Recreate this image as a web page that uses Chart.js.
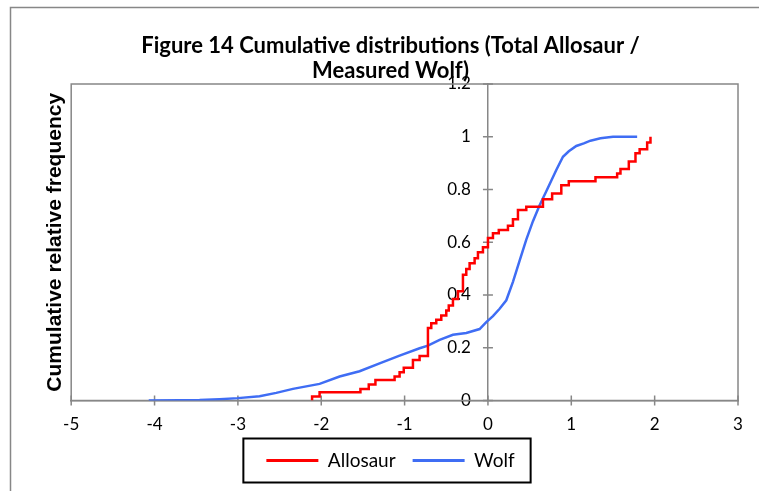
<!DOCTYPE html>
<html>
<head>
<meta charset="utf-8">
<script src="https://cdn.jsdelivr.net/npm/chart.js@4.4.1/dist/chart.umd.min.js"></script>
<style>
  html, body { margin: 0; padding: 0; background: #fff; }
  #wrap { width: 759px; height: 491px; }
</style>
</head>
<body>
<div id="wrap"><canvas id="myChart" width="759" height="491"></canvas></div>
<script>
// values (x = score, y = cumulative relative frequency)
const allosaurX = [-2.11, -2.11, -2.02, -1.53, -1.43, -1.35, -1.12, -1.06, -1.01, -0.90, -0.82,
  -0.72, -0.68, -0.62, -0.56, -0.50, -0.47, -0.42, -0.36, -0.30, -0.26, -0.22, -0.16, -0.12, -0.06,
  0.00, 0.06, 0.13, 0.24, 0.30, 0.36, 0.46, 0.66, 0.77, 0.88, 0.97, 1.29, 1.55, 1.59, 1.69, 1.77,
  1.82, 1.91, 1.95];
const allosaurY = [0, 0.015, 0.031, 0.044, 0.061, 0.078, 0.091, 0.107, 0.124, 0.154, 0.169,
  0.275, 0.293, 0.306, 0.322, 0.341, 0.360, 0.385, 0.414, 0.477, 0.499, 0.520, 0.539, 0.562, 0.581,
  0.616, 0.634, 0.646, 0.663, 0.687, 0.722, 0.735, 0.763, 0.785, 0.816, 0.831, 0.846, 0.861, 0.878,
  0.906, 0.937, 0.953, 0.978, 1.0];

const wolfX = [-4.07, -3.70, -3.46, -3.22, -3.00, -2.74, -2.54, -2.34, -2.02, -1.78, -1.54, -1.30,
  -1.06, -0.82, -0.72, -0.58, -0.42, -0.26, -0.10, -0.02, 0.06, 0.14, 0.22, 0.30, 0.38, 0.46, 0.54,
  0.62, 0.71, 0.82, 0.90, 0.97, 1.06, 1.15, 1.23, 1.35, 1.50, 1.79];
const wolfY = [0, 0.001, 0.002, 0.005, 0.009, 0.016, 0.029, 0.044, 0.063, 0.091, 0.111, 0.141,
  0.170, 0.198, 0.208, 0.230, 0.249, 0.256, 0.271, 0.297, 0.320, 0.348, 0.380, 0.450, 0.530, 0.610,
  0.680, 0.740, 0.800, 0.874, 0.924, 0.945, 0.965, 0.975, 0.985, 0.994, 1.0, 1.0];

const xTicks = [-5, -4, -3, -2, -1, 0, 1, 2, 3];
const yTicks = [0, 0.2, 0.4, 0.6, 0.8, 1, 1.2];
const seriesNames = ['Allosaur', 'Wolf'];
const titleLines = ['Figure 14 Cumulative distributions (Total Allosaur /', 'Measured Wolf)'];
const yTitle = 'Cumulative relative frequency';

const axisGrey = '#878787';
const toPoints = (xs, ys) => xs.map((x, i) => ({ x, y: ys[i] }));

// plot frame, crossing tick marks, outer border and legend box
const frame = {
  id: 'frame',
  beforeDatasetsDraw(chart) {
    const { ctx, chartArea: a, scales: { x, y } } = chart;
    ctx.save();
    ctx.strokeStyle = axisGrey;
    ctx.lineWidth = 1.5;
    ctx.strokeRect(a.left, a.top, a.width, a.height);
    const x0 = x.getPixelForValue(0);
    const y0 = y.getPixelForValue(0);
    ctx.beginPath();
    xTicks.forEach(v => {
      const px = x.getPixelForValue(v);
      ctx.moveTo(px, y0 - 5);
      ctx.lineTo(px, y0 + 5);
    });
    yTicks.forEach(v => {
      const py = y.getPixelForValue(v);
      ctx.moveTo(x0 - 5, py);
      ctx.lineTo(x0 + 5, py);
    });
    ctx.stroke();
    ctx.restore();
  },
  afterDraw(chart) {
    const { ctx, legend } = chart;
    ctx.save();
    ctx.strokeStyle = axisGrey;
    ctx.lineWidth = 1.5;
    ctx.beginPath();
    ctx.moveTo(10.5, chart.height);
    ctx.lineTo(10.5, 7.5);
    ctx.lineTo(chart.width, 7.5);
    ctx.stroke();

    const hb = legend.legendHitBoxes;
    const left = Math.min(...hb.map(b => b.left)) - 23;
    const right = Math.max(...hb.map(b => b.left + b.width)) + 16;
    const mid = hb[0].top + hb[0].height / 2;
    ctx.strokeStyle = '#000';
    ctx.lineWidth = 2;
    ctx.strokeRect(left, mid - 22, right - left, 44);
    ctx.restore();
  }
};

const ctx = document.getElementById('myChart');
const myChart = new Chart(ctx, {
  type: 'line',
  data: {
    datasets: [{
      label: seriesNames[0],
      data: toPoints(allosaurX, allosaurY),
      borderColor: '#ff0000',
      backgroundColor: '#ff0000',
      borderWidth: 2.5,
      stepped: 'before',
      pointRadius: 0,
      fill: false
    }, {
      label: seriesNames[1],
      data: toPoints(wolfX, wolfY),
      borderColor: '#3f6df4',
      backgroundColor: '#3f6df4',
      borderWidth: 2.5,
      tension: 0,
      pointRadius: 0,
      fill: false
    }]
  },
  options: {
    responsive: false,
    animation: false,
    layout: { padding: { left: 43, right: 21, top: 0, bottom: 11 } },
    plugins: {
      tooltip: { enabled: false },
      title: {
        display: true,
        text: titleLines,
        color: '#000',
        font: { family: 'Lato', weight: 'bold', size: 22, lineHeight: '25px' },
        padding: { top: 33, bottom: 1 }
      },
      legend: {
        position: 'bottom',
        labels: {
          color: '#000',
          font: { family: 'Lato', size: 19 },
          boxWidth: 52,
          boxHeight: 3,
          padding: 17,
          generateLabels(chart) {
            return Chart.defaults.plugins.legend.labels.generateLabels(chart)
              .map(l => ({ ...l, lineWidth: 0, fillStyle: l.strokeStyle }));
          }
        }
      }
    },
    scales: {
      x: {
        type: 'linear',
        position: 'bottom',
        min: -5,
        max: 3,
        afterBuildTicks: s => { s.ticks = xTicks.map(v => ({ value: v })); },
        ticks: { color: '#000', font: { family: 'Lato', size: 17, lineHeight: '19px' }, padding: 0, autoSkip: false, maxRotation: 0 },
        // invisible tick length spaces the labels from the axis (real marks drawn by the frame plugin)
        grid: { drawOnChartArea: false, drawTicks: true, tickLength: 14.5, tickColor: 'rgba(0,0,0,0)' },
        border: { color: axisGrey, width: 1.5 }
      },
      y: {
        type: 'linear',
        position: { x: 0 },
        min: 0,
        max: 1.2,
        afterBuildTicks: s => { s.ticks = yTicks.map(v => ({ value: v })); },
        // the axis sits at x = 0, where Chart.js puts no gap before the labels
        ticks: { color: '#000', font: { family: 'Lato', size: 17 }, callback: v => String(v) + '\u2002\u2002' },
        grid: { drawOnChartArea: false, drawTicks: false },
        border: { color: axisGrey, width: 1.5 }
      },
      yTitle: {
        type: 'linear',
        position: 'left',
        ticks: { display: false },
        grid: { display: false, drawTicks: false },
        border: { display: false },
        title: {
          display: true,
          text: yTitle,
          color: '#000',
          font: { family: 'Liberation Sans', weight: 'bold', size: 21, lineHeight: 1.2 },
          padding: { top: 0, bottom: 3 }
        }
      }
    }
  },
  plugins: [frame]
});
</script>
</body>
</html>
